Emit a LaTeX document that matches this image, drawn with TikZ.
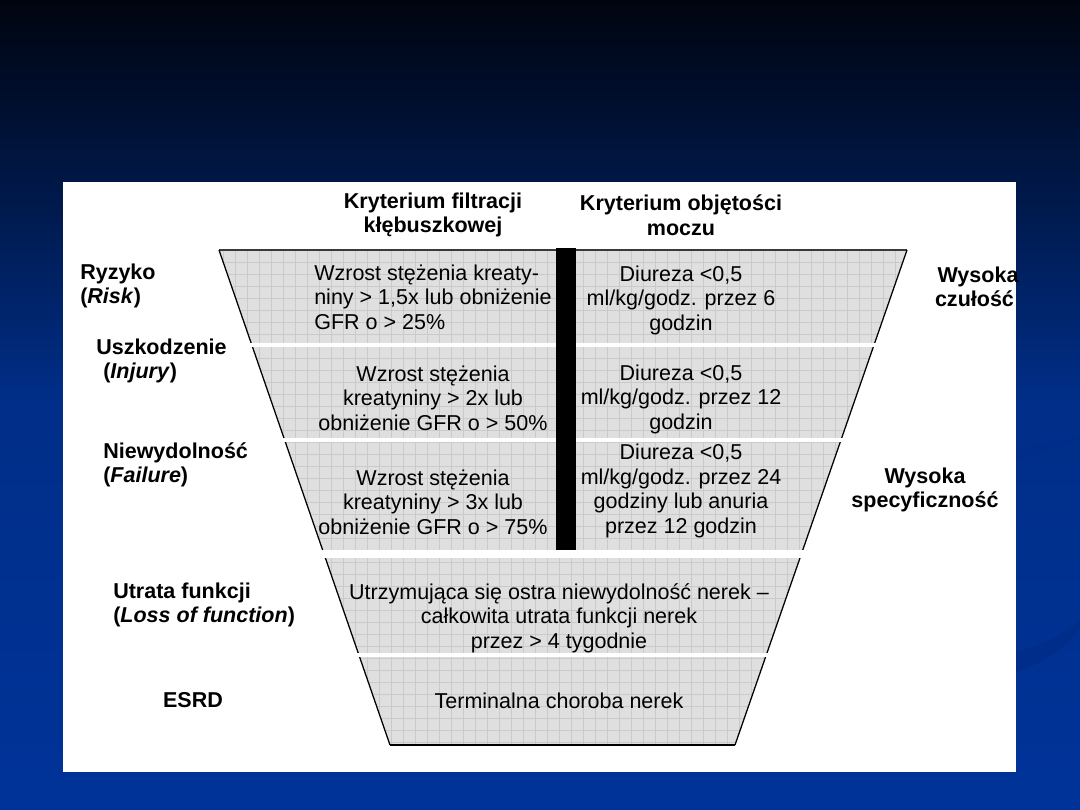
\documentclass[tikz,border=0pt]{standalone}
\usepackage{fontspec}
\setmainfont{Liberation Sans}
\usetikzlibrary{calc}
\definecolor{cSlideTop}{HTML}{00040F}
\definecolor{cSlideMid}{HTML}{002E88}
\definecolor{cSlideBot}{HTML}{003399}
\definecolor{cSwoosh}{HTML}{002D8A}
\definecolor{cFunnel}{HTML}{DFDFDF}
\definecolor{cGrid}{HTML}{CACACA}
\definecolor{cRim}{HTML}{3A3A3A}

\begin{document}
\begin{tikzpicture}[x=0.025cm, y=-0.025cm,
  every node/.style={font=\fontsize{15.3}{17.4}\selectfont, inner sep=0pt},
  head/.style={align=center, font=\fontsize{15.3}{17.4}\selectfont\bfseries},
  side/.style={align=left, anchor=west, font=\fontsize{15.3}{17.4}\selectfont\bfseries},
  tag/.style={align=center, font=\fontsize{15.3}{17.4}\selectfont\bfseries},
  cell/.style={align=center},
  sep/.style={draw=white, line width=2.9pt, shorten <=-2pt, shorten >=-2pt}
]
% Slide background
\useasboundingbox (0,0) rectangle (1080,810);
\shade[top color=cSlideTop, bottom color=cSlideMid] (0,0) rectangle (1080,400);
\shade[top color=cSlideMid, bottom color=cSlideBot] (0,399) rectangle (1080,810);
\fill[cSwoosh] (1016,462) .. controls (1040,452) and (1060,446) .. (1080,440) -- (1080,436) .. controls (1060,440) and (1040,444) .. (1016,450) -- cycle;
\fill[cSwoosh] (1016,672) .. controls (1040,664) and (1062,652) .. (1080,628) -- (1080,620) .. controls (1062,636) and (1040,646) .. (1016,652) -- cycle;
\fill[white] (63,182) rectangle (1016,772);

% Funnel
\coordinate (tl) at (219,250);
\coordinate (tr) at (907,250);
\coordinate (bl) at (390,745);
\coordinate (br) at (735,745);
\begin{scope}
\clip (tl) -- (tr) -- (br) -- (bl) -- cycle;
\fill[cFunnel] (200,240) rectangle (920,760);
\foreach \gx in {223,235,...,907} \draw[cGrid, line width=0.5pt] (\gx,250) -- (\gx,745);
\foreach \gy in {262,274,...,745} \draw[cGrid, line width=0.5pt] (200,\gy) -- (920,\gy);
\end{scope}
\draw[cRim, line width=0.9pt] (tl) -- (tr);
\draw[black, line width=0.9pt] (tr) -- (br);
\draw[black, line width=0.9pt] (tl) -- (bl);
\draw[black, line width=1.5pt] (bl) -- (br);

% Band separators
\draw[sep] ($(tl)!0.192!(bl)$) -- ($(tr)!0.192!(br)$);
\draw[sep] ($(tl)!0.384!(bl)$) -- ($(tr)!0.384!(br)$);
\draw[sep, line width=6pt] ($(tl)!0.614!(bl)$) -- ($(tr)!0.614!(br)$);
\draw[sep] ($(tl)!0.818!(bl)$) -- ($(tr)!0.818!(br)$);
\fill[black] (556,248) rectangle (576,550);

% Column heads
\node[head] (hgfr) at (433,215) {Kryterium filtracji\\kłębuszkowej};
\node[head] (huo) at (681,215) {Kryterium objętości\\moczu};

% Stage labels
\node[side] (risk) at (80,286) {Ryzyko\\(\textit{Risk})};
\node[side] (injury) at (96,361) {Uszkodzenie\\\hspace*{5pt}(\textit{Injury})};
\node[side] (failure) at (103,465) {Niewydolność\\(\textit{Failure})};
\node[side] (loss) at (113,605) {Utrata funkcji\\(\textit{Loss of function})};
\node[tag] (esrd) at (193,700) {ESRD};

% Right labels
\node[tag] (sens) at (978,287) {Wysoka\\czułość\hspace*{5pt}};
\node[tag] (spec) at (925,490) {Wysoka\\specyficzność};

% Cells
\node[align=left, anchor=west] (r1l) at (314,297) {Wzrost stężenia kreaty-\\niny > 1,5x lub obniżenie\\GFR o > 25\%};
\node[cell] (r1r) at (681,300) {Diureza <0,5\\ml/kg/godz. przez 6\\godzin};
\node[cell] (r2l) at (433,398) {Wzrost stężenia\\kreatyniny > 2x lub\\obniżenie GFR o > 50\%};
\node[cell] (r2r) at (681,399) {Diureza <0,5\\ml/kg/godz. przez 12\\godzin};
\node[cell] (r3l) at (433,502) {Wzrost stężenia\\kreatyniny > 3x lub\\obniżenie GFR o > 75\%};
\node[cell] (r3r) at (681,491) {Diureza <0,5\\ml/kg/godz. przez 24\\godziny lub anuria\\przez 12 godzin};
\node[cell] (r4) at (559,618) {Utrzymująca się ostra niewydolność nerek –\\całkowita utrata funkcji nerek\\przez > 4 tygodnie};
\node[cell] (r5) at (559,701) {Terminalna choroba nerek};
\end{tikzpicture}
\end{document}
